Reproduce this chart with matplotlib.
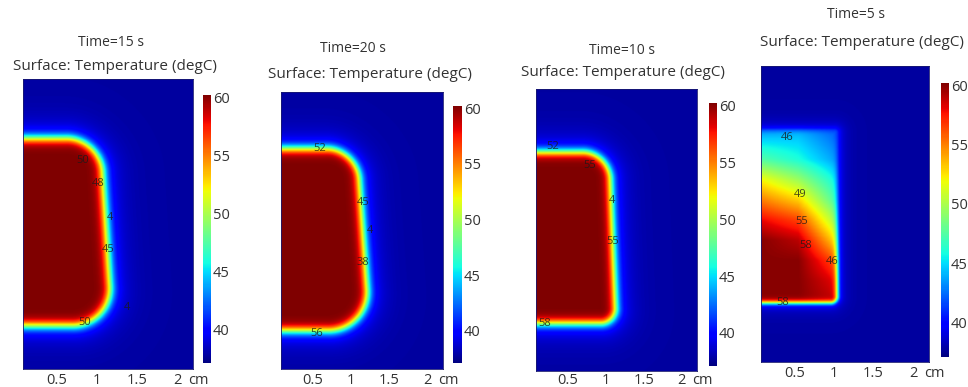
import numpy as np
import matplotlib.pyplot as plt

# four COMSOL snapshots, in the order they appear left to right
times = ['15', '20', '10', '5']

# hot region outline (cm)
hot_top = [2.90, 2.90, 2.83, 2.86]
hot_bottom = [0.55, 0.51, 0.62, 0.73]
right_top = [1.04, 1.07, 1.04, 1.04]
right_bottom = [1.19, 1.24, 1.13, 1.04]
radius_top = [0.42, 0.40, 0.35, 0.03]
radius_bottom = [0.50, 0.55, 0.20, 0.08]
edge_width = [0.036, 0.036, 0.034, 0.018]

t_hot = 60.2
t_back = 37.8
t_min, t_max = 37.1, 60.2

# Time=5 s: temperature inside the hot block (not yet uniform)
p4_x = [0.08, 0.55, 1.04]
p4_y = [0.73, 1.0, 1.25, 1.5, 1.75, 2.0, 2.25, 2.5, 2.86]
p4_temp = [[60, 60, 59],
           [60, 60, 58],
           [60, 60, 56],
           [60, 59, 52.5],
           [58, 56.5, 49.5],
           [55, 53, 47],
           [52, 49.5, 45.5],
           [47.5, 46, 43.5],
           [43.5, 44, 42]]

# contour labels COMSOL left on the plots (text, x cm, y cm)
contour_labels = [
    [('50', 0.83, 2.63), ('48', 1.02, 2.34), ('4', 1.16, 1.91),
     ('45', 1.14, 1.50), ('4', 1.38, 0.78), ('50', 0.85, 0.59)],
    [('52', 0.59, 2.91), ('45', 1.15, 2.20), ('4', 1.24, 1.83),
     ('38', 1.15, 1.40), ('56', 0.55, 0.47)],
    [('52', 0.30, 2.90), ('55', 0.79, 2.66), ('4', 1.08, 2.21),
     ('55', 1.09, 1.67), ('58', 0.20, 0.62)],
    [('46', 0.41, 2.77), ('49', 0.57, 2.06), ('55', 0.59, 1.73),
     ('58', 0.64, 1.44), ('46', 0.98, 1.24), ('58', 0.36, 0.73)],
]

x_ticks = [0.5, 1, 1.5, 2]
x_tick_labels = ['0.5', '1', '1.5', '2']
cbar_ticks = [40, 45, 50, 55, 60]

# layout in pixels (left, top, right, bottom)
W, H = 968, 387
axes_px = [(23, 79, 193, 369), (281, 92, 443, 369), (536, 89, 697, 371), (761, 66, 929, 362)]
cbar_px = [(203, 95, 211, 363), (453, 106, 462, 363), (709, 103, 717, 366), (941, 83, 949, 357)]
tick_pad = [3, 3, 1.5, 3]
time_xy = [(111, 43), (353, 49), (622, 50), (856, 15)]
surf_xy = [(115, 67), (370, 74), (623, 73), (862, 42)]

xs = np.linspace(0.08, 2.2, 320)
ys = np.linspace(0, 3.65, 520)

plt.rcParams['font.family'] = ['Open Sans', 'DejaVu Sans']
txt = '#333333'


def rect(px):
    l, t, r, b = px
    return [l / W, 1 - b / H, (r - l) / W, (b - t) / H]


def block_dist(i, X, Y):
    # signed distance to a rounded box whose right side leans
    y0, y1 = hot_bottom[i], hot_top[i]
    Xs = X - (right_top[i] - right_bottom[i]) * (Y - y0) / (y1 - y0)
    x0, x1 = -2.0, right_bottom[i]
    cx, cy = (x0 + x1) / 2, (y0 + y1) / 2
    hx, hy = (x1 - x0) / 2, (y1 - y0) / 2
    r = np.where(Y > cy, radius_top[i], radius_bottom[i])
    qx = np.abs(Xs - cx) - hx + r
    qy = np.abs(Y - cy) - hy + r
    return (np.hypot(np.maximum(qx, 0), np.maximum(qy, 0))
            + np.minimum(np.maximum(qx, qy), 0) - r)


def temperature(i):
    X, Y = np.meshgrid(xs, ys)
    d = block_dist(i, X, Y)
    if i == 3:
        rows = np.array([np.interp(xs, p4_x, row) for row in p4_temp])
        t_in = np.array([np.interp(ys, p4_y, rows[:, j]) for j in range(len(xs))]).T
        halo_amp, halo_len = 2.5, 0.08
    else:
        t_in = t_hot
        halo_amp, halo_len = 4.0, 0.15
    t_out = t_back + halo_amp * np.exp(-np.maximum(d, 0) / halo_len)
    s = 1 / (1 + np.exp(np.clip(d / edge_width[i], -60, 60)))
    return t_out + (t_in - t_out) * s


fig = plt.figure(figsize=(W / 100, H / 100), dpi=100)

for i in range(4):
    ax = fig.add_axes(rect(axes_px[i]))
    im = ax.imshow(temperature(i), extent=(xs[0], xs[-1], ys[0], ys[-1]),
                   origin='lower', aspect='auto', cmap='jet',
                   vmin=t_min, vmax=t_max, interpolation='bilinear')
    ax.set_xlim(xs[0], xs[-1])
    ax.set_ylim(ys[0], ys[-1])
    ax.set_xticks(x_ticks)
    ax.set_xticklabels(x_tick_labels)
    ax.set_yticks([])
    ax.tick_params(axis='x', length=0, pad=tick_pad[i], labelsize=10.5, labelcolor=txt)
    for sp in ax.spines.values():
        sp.set_color('#1a1a70')
        sp.set_linewidth(0.6)
    ax.annotate('cm', xy=(2.27, 0), xycoords=ax.get_xaxis_transform(),
                xytext=(0, -tick_pad[i]), textcoords='offset points',
                ha='center', va='top', fontsize=10.5, color=txt,
                annotation_clip=False)
    for s, lx, ly in contour_labels[i]:
        ax.text(lx, ly, s, fontsize=8, color='#1a1a1a', alpha=0.8,
                ha='center', va='center')

    cax = fig.add_axes(rect(cbar_px[i]))
    cb = fig.colorbar(im, cax=cax, ticks=cbar_ticks)
    cb.outline.set_visible(False)
    cax.tick_params(length=0, pad=1.5, labelsize=10.5, labelcolor=txt)

    fig.text(time_xy[i][0] / W, 1 - time_xy[i][1] / H, 'Time=' + times[i] + ' s',
             ha='center', va='center', fontsize=10, color=txt)
    fig.text(surf_xy[i][0] / W, 1 - surf_xy[i][1] / H, 'Surface: Temperature (degC)',
             ha='center', va='center', fontsize=11, color=txt)

plt.savefig('out.png', dpi=100)
